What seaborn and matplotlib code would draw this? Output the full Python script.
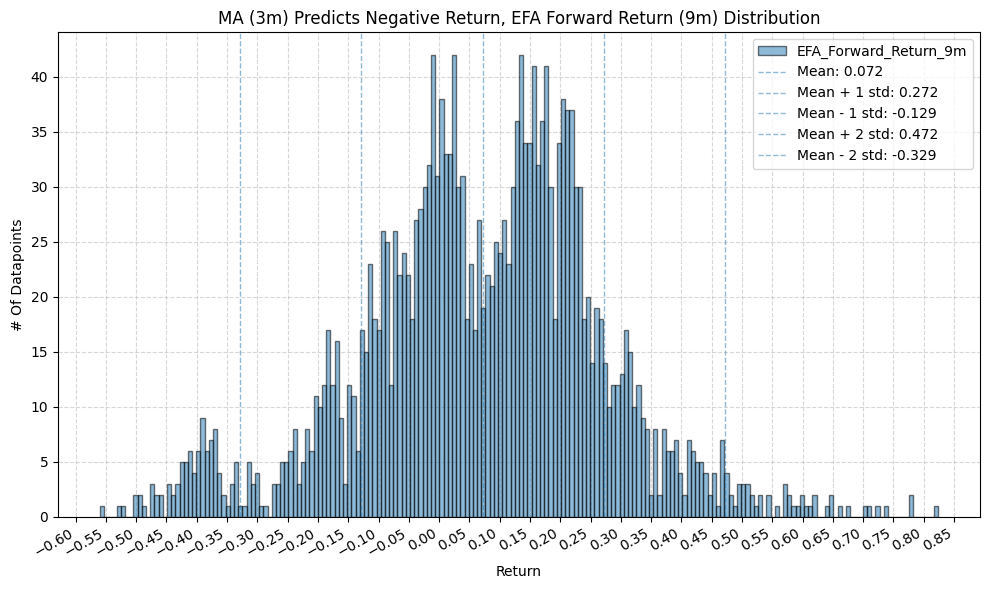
import matplotlib
matplotlib.use("Agg")
import matplotlib.pyplot as plt
import matplotlib.ticker as mticker
import numpy as np
import pandas as pd
import seaborn as sns

# histogram counts per bin (200 bins between RET_MIN and RET_MAX)
RET_MIN = -0.560
RET_MAX = 0.824
N_BINS = 200

counts = [
    1, 0, 0, 0, 1, 1, 0, 0, 2, 2,
    1, 0, 3, 2, 2, 0, 3, 2, 3, 5,
    5, 6, 4, 6, 9, 6, 7, 8, 4, 2,
    1, 3, 5, 1, 1, 5, 3, 4, 1, 1,
    0, 3, 3, 5, 5, 6, 8, 3, 5, 8,
    6, 11, 10, 12, 17, 12, 16, 9, 3, 12,
    11, 6, 17, 15, 23, 18, 17, 26, 25, 12,
    26, 22, 24, 22, 18, 27, 28, 30, 32, 42,
    31, 38, 33, 33, 42, 30, 31, 18, 23, 17,
    27, 19, 22, 21, 25, 24, 27, 23, 30, 36,
    42, 34, 34, 41, 32, 36, 41, 30, 18, 34,
    38, 37, 37, 30, 30, 18, 20, 14, 19, 18,
    14, 10, 12, 12, 13, 17, 15, 10, 12, 9,
    8, 2, 8, 2, 8, 6, 6, 7, 4, 2,
    7, 6, 5, 5, 4, 2, 4, 1, 7, 4,
    2, 1, 3, 3, 3, 2, 1, 2, 0, 2,
    0, 1, 0, 3, 2, 1, 1, 2, 1, 1,
    2, 0, 0, 1, 2, 0, 1, 0, 1, 0,
    0, 0, 1, 1, 0, 1, 0, 1, 0, 0,
    0, 0, 0, 2, 0, 0, 0, 0, 0, 1,
]

ret_mean = 0.0717
ret_std = 0.2003
col_name = "EFA_Forward_Return_9m"

edges = np.linspace(RET_MIN, RET_MAX, N_BINS + 1)
df = pd.DataFrame({
    "ret": (edges[:-1] + edges[1:]) / 2,
    "n": counts,
})

fig, ax = plt.subplots(figsize=(9.89, 5.9), dpi=100)
sns.histplot(data=df, x="ret", weights="n", bins=N_BINS, binrange=(RET_MIN, RET_MAX),
             color="C0", alpha=0.5, edgecolor=(0, 0, 0, 0.55), linewidth=1,
             label=col_name, ax=ax)

stat_lines = [
    (ret_mean, f"Mean: {ret_mean:.3f}"),
    (ret_mean + ret_std, f"Mean + 1 std: {ret_mean + ret_std:.3f}"),
    (ret_mean - ret_std, f"Mean - 1 std: {ret_mean - ret_std:.3f}"),
    (ret_mean + 2 * ret_std, f"Mean + 2 std: {ret_mean + 2 * ret_std:.3f}"),
    (ret_mean - 2 * ret_std, f"Mean - 2 std: {ret_mean - 2 * ret_std:.3f}"),
]
line_handles = []
for xv, lab in stat_lines:
    line_handles.append(ax.axvline(xv, color="C0", alpha=0.5, linestyle="--",
                                   linewidth=1, label=lab))

ax.set_title("MA (3m) Predicts Negative Return, EFA Forward Return (9m) Distribution")
ax.set_xlabel("Return")
ax.set_ylabel("# Of Datapoints")
ax.xaxis.set_major_locator(mticker.MultipleLocator(0.05))
ax.grid(True, linestyle="--", alpha=0.5)
ax.set_axisbelow(True)

handles, labels = ax.get_legend_handles_labels()
hist_idx = labels.index(col_name)
order = [hist_idx] + [i for i in range(len(labels)) if i != hist_idx]
ax.legend([handles[i] for i in order], [labels[i] for i in order], loc="upper right")

plt.setp(ax.get_xticklabels(), rotation=30, ha="right")
fig.subplots_adjust(left=0.0586, right=0.991, top=0.946, bottom=0.124)
plt.savefig("out.png", dpi=100)
plt.close()
